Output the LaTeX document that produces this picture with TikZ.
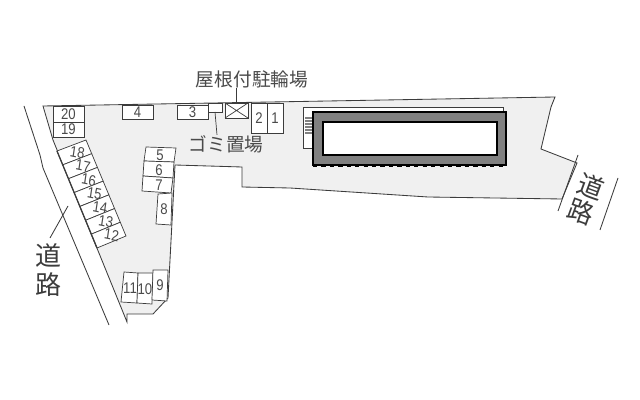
\documentclass[tikz,border=0pt]{standalone}
\usepackage{fontspec}
\setmainfont{Liberation Sans}
\newfontfamily\jpfont{Noto Sans CJK JP}
\usetikzlibrary{calc}
\definecolor{lotgray}{HTML}{F0F0F0}
\definecolor{inkgray}{HTML}{3C3C3C}
\definecolor{textgray}{HTML}{4A4A4A}
\definecolor{wallgray}{HTML}{808080}
\tikzset{
    stall/.style={draw=inkgray, fill=white, line width=0.5pt},
    num/.style={text=textgray, font=\fontsize{11}{12}\selectfont, inner sep=0pt, xscale=0.85},
    jp/.style={text=textgray, font=\jpfont\fontsize{13.3}{14}\selectfont, inner sep=0pt},
    road/.style={text=inkgray, font=\jpfont\fontsize{18.5}{19}\selectfont, inner sep=0pt},
}
\begin{document}
\begin{tikzpicture}[x=0.025cm, y=-0.025cm]
    \useasboundingbox (0,0) rectangle (640,400);
    \fill[white] (0,0) rectangle (640,400);
    % lot
    \draw[inkgray, fill=lotgray, line width=0.6pt] (43,106) -- (555,97) -- (551,107) -- (541,149) -- (577,163)
        -- (562,199) -- (428,197) -- (290,188) -- (242,187) -- (242,167) -- (175,165)
        -- (168,298) -- (153,314) -- (127,314) -- (127,322) -- (53,140) -- cycle;
    % road lines
    \draw[inkgray, line width=0.6pt] (24,106) -- (40,155) -- (43,168) -- (109,325);
    \coordinate (roada) at (68,206);
    \coordinate (roadb) at (50,238);
    \draw[inkgray, line width=0.6pt] (roada) -- (roadb);
    \draw[inkgray, line width=0.6pt] (578,155) -- (558,211);
    \draw[inkgray, line width=0.6pt] (618,178) -- (600,230);
    % top row
    \draw[stall] (53,106) rectangle node[num] {20} (84,122);
    \draw[stall] (53,122) rectangle node[num] {19} (84,137);
    \draw[stall] (122,105) rectangle node[num] {4} (153,119);
    \draw[stall] (177,105) rectangle node[num] {3} (208,119);
    \draw[stall] (208,103) rectangle (222,112);
    \draw[stall] (225,103) rectangle (248,118);
    \draw[inkgray, line width=0.5pt] (225,103) -- (248,118) (225,118) -- (248,103);
    \draw[stall] (251,103) rectangle node[num] {2} (267,133);
    \draw[stall] (267,103) rectangle node[num] {1} (283,133);
    % slanted row
    \coordinate (stripa) at (57,151);
    \coordinate (stripb) at (86,140);
    \coordinate (stripc) at (126,236);
    \coordinate (stripd) at (97,248);
    \foreach \i/\lab in {0/18,1/17,2/16,3/15,4/14,5/13,6/12}{
        \pgfmathsetmacro{\pa}{\i/7}
        \pgfmathsetmacro{\pb}{(\i+1)/7}
        \draw[stall] ($(stripa)!\pa!(stripd)$) -- ($(stripb)!\pa!(stripc)$)
            -- ($(stripb)!\pb!(stripc)$) -- ($(stripa)!\pb!(stripd)$) -- cycle;
        \pgfmathsetmacro{\pm}{(\i+0.5)/7}
        \node[num, rotate=-10] (slot\lab) at ($($(stripa)!\pm!(stripd)$)!0.5!($(stripb)!\pm!(stripc)$)+(3,0)$) {\lab};
    }
    \draw[inkgray, line width=0.9pt] (stripa) -- (stripd);
    % middle column
    \draw[stall] (146,147) -- (176,148) -- (174,162) -- (144,161) -- cycle;
    \draw[stall] (144,161) -- (174,162) -- (173,178) -- (143,176) -- cycle;
    \draw[stall] (143,176) -- (173,178) -- (171,193) -- (142,191) -- cycle;
    \draw[stall] (158,194) -- (172,193) -- (171,225) -- (156,224) -- cycle;
    \node[num] (slot5) at (160,155) {5};
    \node[num] (slot6) at (159,170) {6};
    \node[num] (slot7) at (159,185) {7};
    \node[num] (slot8) at (164,209) {8};
    % bottom row
    \draw[stall] (124,272) -- (138,273) -- (137,303) -- (121,302) -- cycle;
    \draw[stall] (138,273) -- (153,273) -- (152,304) -- (137,303) -- cycle;
    \draw[stall] (153,270) -- (168,270) -- (167,301) -- (152,300) -- cycle;
    \node[num] (slot11) at (130,288) {11};
    \node[num] (slot10) at (145,289) {10};
    \node[num] (slot9) at (160,285) {9};
    % building
    \draw[inkgray, line width=0.5pt, fill=white] (303,107) rectangle (503,148);
    \fill[wallgray] (305,117) rectangle (313,135);
    \foreach \y in {119,122,...,134}{
        \draw[white, line width=0.3pt] (305,\y) -- (313,\y);
    }
    \draw[black, fill=wallgray, line width=1.3pt] (313,112) rectangle (506,165);
    \draw[black, fill=white, line width=1.3pt] (323,122) rectangle (497,155);
    \draw[black, dashed, line width=0.7pt] (313,166) -- (506,166);
    % labels
    \node[jp] (bike) at (252,79) {屋根付駐輪場};
    \node[jp] (trash) at (226,144) {ゴミ置場};
    \draw[inkgray, line width=0.5pt] (bike.south -| 236,103) -- (236,103);
    \draw[inkgray, line width=0.5pt] (215,112) -- (trash.north -| 217,135);
    \node[road] (roadw) at (49,256) {道};
    \node[road] (roadx) at (49,285) {路};
    \node[road, rotate=-20] (roady) at (591,187) {道};
    \node[road, rotate=-20] (roadz) at (581,212) {路};
\end{tikzpicture}
\end{document}
